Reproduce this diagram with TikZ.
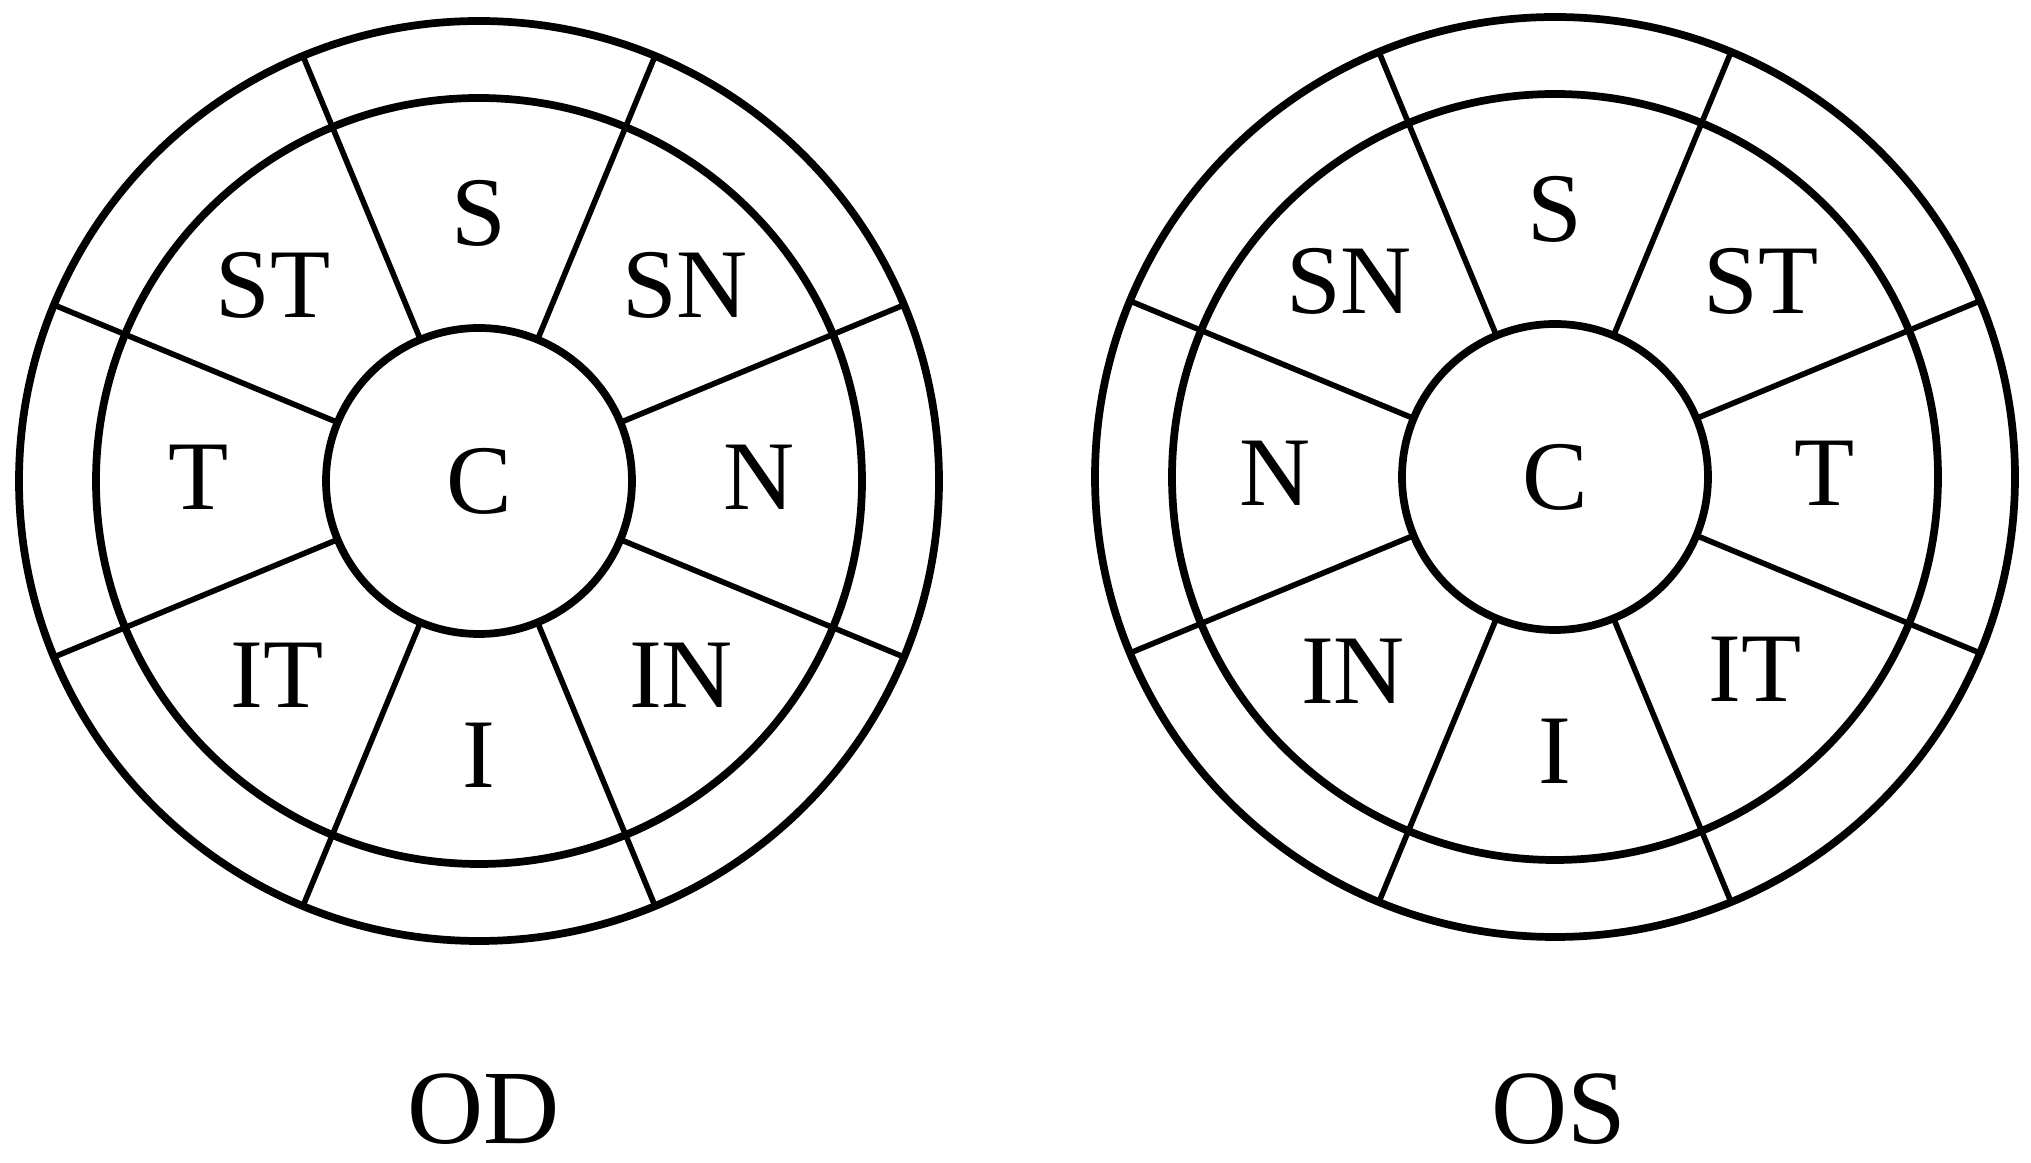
\documentclass[tikz,border=0pt]{standalone}
\usepackage{fontspec}
\setmainfont{Liberation Serif}
\usetikzlibrary{calc}

\begin{document}
\begin{tikzpicture}[x=1cm,y=1cm, line cap=round, line join=round]

\tikzset{
  ring/.style={draw=black, line width=2.2pt},
  spoke/.style={draw=black, line width=1.6pt},
  zone/.style={font=\fontsize{28}{32}\selectfont, inner sep=0pt},
  eye/.style={font=\fontsize{30}{34}\selectfont, inner sep=0pt}
}

\useasboundingbox (0,0) rectangle (20.31,11.63);

\coordinate (od) at (4.79,6.82);
\coordinate (os) at (15.55,6.86);

% right eye
\draw[ring] (od) circle (4.60);
\draw[ring] (od) circle (3.83);
\draw[ring] (od) circle (1.53);

\draw[spoke] ($(od)+(22.5:1.53)$) -- ($(od)+(22.5:4.60)$);
\draw[spoke] ($(od)+(67.5:1.53)$) -- ($(od)+(67.5:4.60)$);
\draw[spoke] ($(od)+(112.5:1.53)$) -- ($(od)+(112.5:4.60)$);
\draw[spoke] ($(od)+(157.5:1.53)$) -- ($(od)+(157.5:4.60)$);
\draw[spoke] ($(od)+(202.5:1.53)$) -- ($(od)+(202.5:4.60)$);
\draw[spoke] ($(od)+(247.5:1.53)$) -- ($(od)+(247.5:4.60)$);
\draw[spoke] ($(od)+(292.5:1.53)$) -- ($(od)+(292.5:4.60)$);
\draw[spoke] ($(od)+(337.5:1.53)$) -- ($(od)+(337.5:4.60)$);

\node[zone] (odC) at (od) {C};
\node[zone] (odS) at ($(od)+(0,2.68)$) {S};
\node[zone] (odSN) at ($(od)+(2.06,1.96)$) {SN};
\node[zone] (odN) at ($(od)+(2.8,0.04)$) {N};
\node[zone] (odIN) at ($(od)+(2.02,-1.94)$) {IN};
\node[zone] (odI) at ($(od)+(0,-2.74)$) {I};
\node[zone] (odIT) at ($(od)+(-2.02,-1.94)$) {IT};
\node[zone] (odT) at ($(od)+(-2.8,0.04)$) {T};
\node[zone] (odST) at ($(od)+(-2.06,1.96)$) {ST};

% left eye
\draw[ring] (os) circle (4.60);
\draw[ring] (os) circle (3.83);
\draw[ring] (os) circle (1.53);

\draw[spoke] ($(os)+(22.5:1.53)$) -- ($(os)+(22.5:4.60)$);
\draw[spoke] ($(os)+(67.5:1.53)$) -- ($(os)+(67.5:4.60)$);
\draw[spoke] ($(os)+(112.5:1.53)$) -- ($(os)+(112.5:4.60)$);
\draw[spoke] ($(os)+(157.5:1.53)$) -- ($(os)+(157.5:4.60)$);
\draw[spoke] ($(os)+(202.5:1.53)$) -- ($(os)+(202.5:4.60)$);
\draw[spoke] ($(os)+(247.5:1.53)$) -- ($(os)+(247.5:4.60)$);
\draw[spoke] ($(os)+(292.5:1.53)$) -- ($(os)+(292.5:4.60)$);
\draw[spoke] ($(os)+(337.5:1.53)$) -- ($(os)+(337.5:4.60)$);

\node[zone] (osC) at (os) {C};
\node[zone] (osS) at ($(os)+(0,2.68)$) {S};
\node[zone] (osST) at ($(os)+(2.06,1.96)$) {ST};
\node[zone] (osT) at ($(os)+(2.7,0.04)$) {T};
\node[zone] (osIT) at ($(os)+(2.0,-1.92)$) {IT};
\node[zone] (osI) at ($(os)+(0,-2.74)$) {I};
\node[zone] (osIN) at ($(os)+(-2.02,-1.94)$) {IN};
\node[zone] (osN) at ($(os)+(-2.8,0.04)$) {N};
\node[zone] (osSN) at ($(os)+(-2.06,1.96)$) {SN};

\node[eye] (odlbl) at (4.84,0.54) {OD};
\node[eye] (oslbl) at (15.59,0.54) {OS};

\end{tikzpicture}
\end{document}
